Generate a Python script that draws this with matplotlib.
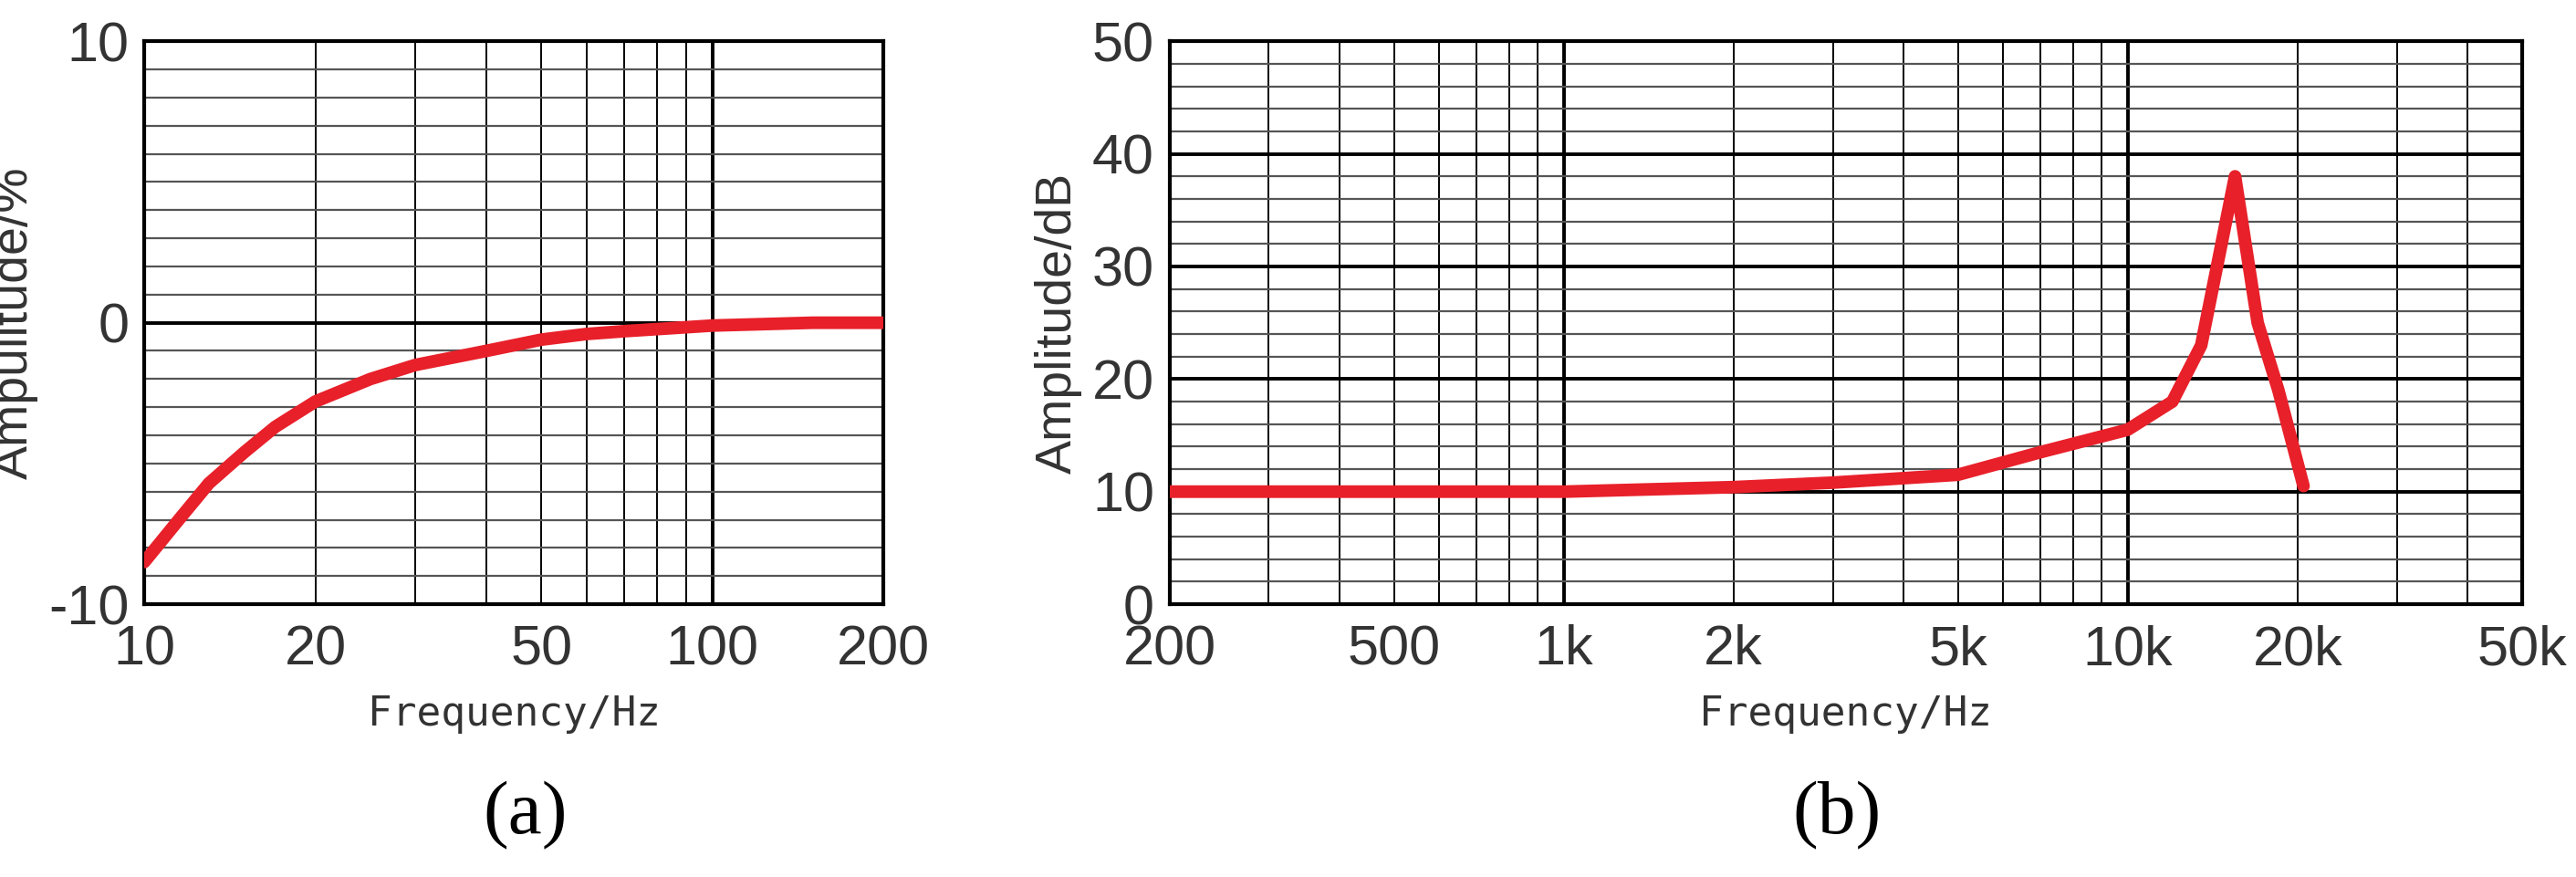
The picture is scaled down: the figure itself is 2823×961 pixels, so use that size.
import matplotlib
matplotlib.use("Agg")
import matplotlib.pyplot as plt
from matplotlib.ticker import FixedLocator, NullFormatter, MultipleLocator

plt.rcParams["axes.unicode_minus"] = False

# panel (a)
freq_a = [10, 11.5, 13, 15, 17, 20, 25, 30, 40, 50, 60, 70, 100, 150, 200]
amp_a = [-8.5, -7.0, -5.7, -4.6, -3.7, -2.8, -2.0, -1.5, -1.0, -0.6, -0.4, -0.3, -0.1, 0.0, 0.0]
xticks_a = [10, 20, 50, 100, 200]
xlabels_a = ["10", "20", "50", "100", "200"]

# panel (b)
freq_b = [200, 500, 1000, 2000, 3000, 5000, 7000, 10000, 12000, 13500, 15500, 17000, 18500, 20500]
amp_b = [10, 10, 10, 10.4, 10.8, 11.5, 13.5, 15.5, 18, 23, 38, 25, 19, 10.5]
xticks_b = [200, 500, 1000, 2000, 5000, 10000, 20000, 50000]
xlabels_b = ["200", "500", "1k", "2k", "5k", "10k", "20k", "50k"]

RED = "#e8202a"
SANS = "Liberation Sans"

fig = plt.figure(figsize=(28.23, 9.61), dpi=100)
ax1 = fig.add_axes([0.056, 0.311, 0.287, 0.642])
ax2 = fig.add_axes([0.454, 0.311, 0.525, 0.642])


def log_grid(ax, lo, hi):
    dec = 1
    while dec <= hi:
        for m in range(1, 10):
            v = m * dec
            if lo < v < hi:
                ax.axvline(v, color="black", lw=2.8 if m == 1 else 1.4, zorder=1)
        dec *= 10


def style(ax, xlo, xhi, ylo, yhi, ystep, yminor, ticks, labels, ylabel):
    ax.set_xscale("log")
    ax.set_xlim(xlo, xhi)
    ax.set_ylim(ylo, yhi)
    log_grid(ax, xlo, xhi)
    n = int(round((yhi - ylo) / yminor))
    for i in range(1, n):
        y = ylo + i * yminor
        major = abs(y % ystep) < 1e-9
        ax.axhline(y, color="black" if major else "#555555",
                   lw=2.8 if major else 1.6, zorder=1)
    ax.xaxis.set_major_locator(FixedLocator(ticks))
    ax.set_xticklabels(labels)
    ax.xaxis.set_minor_formatter(NullFormatter())
    ax.yaxis.set_major_locator(MultipleLocator(ystep))
    ax.tick_params(which="both", length=0, labelsize=44)
    ax.tick_params(axis="x", pad=16)
    ax.tick_params(axis="y", pad=12)
    for lab in ax.get_xticklabels() + ax.get_yticklabels():
        lab.set_fontfamily(SANS)
        lab.set_color("#333333")
    for s in ax.spines.values():
        s.set_linewidth(3)
    ax.set_xlabel("Frequency/Hz", family="DejaVu Sans Mono", fontsize=32,
                  labelpad=14, color="#333333")
    ax.set_ylabel(ylabel, family=SANS, fontsize=40, labelpad=8, color="#333333")


style(ax1, 10, 200, -10, 10, 10, 1, xticks_a, xlabels_a, "Ampulitude/%")
ax1.plot(freq_a, amp_a, color=RED, lw=10, zorder=3, solid_capstyle="round")

style(ax2, 200, 50000, 0, 50, 10, 2, xticks_b, xlabels_b, "Amplitude/dB")
ax2.plot(freq_b, amp_b, color=RED, lw=10, zorder=3, solid_capstyle="round")

fig.text(0.204, 0.05, "(a)", family="Liberation Serif", fontsize=60, ha="center")
fig.text(0.713, 0.05, "(b)", family="Liberation Serif", fontsize=60, ha="center")

fig.savefig("out.png", dpi=100)
